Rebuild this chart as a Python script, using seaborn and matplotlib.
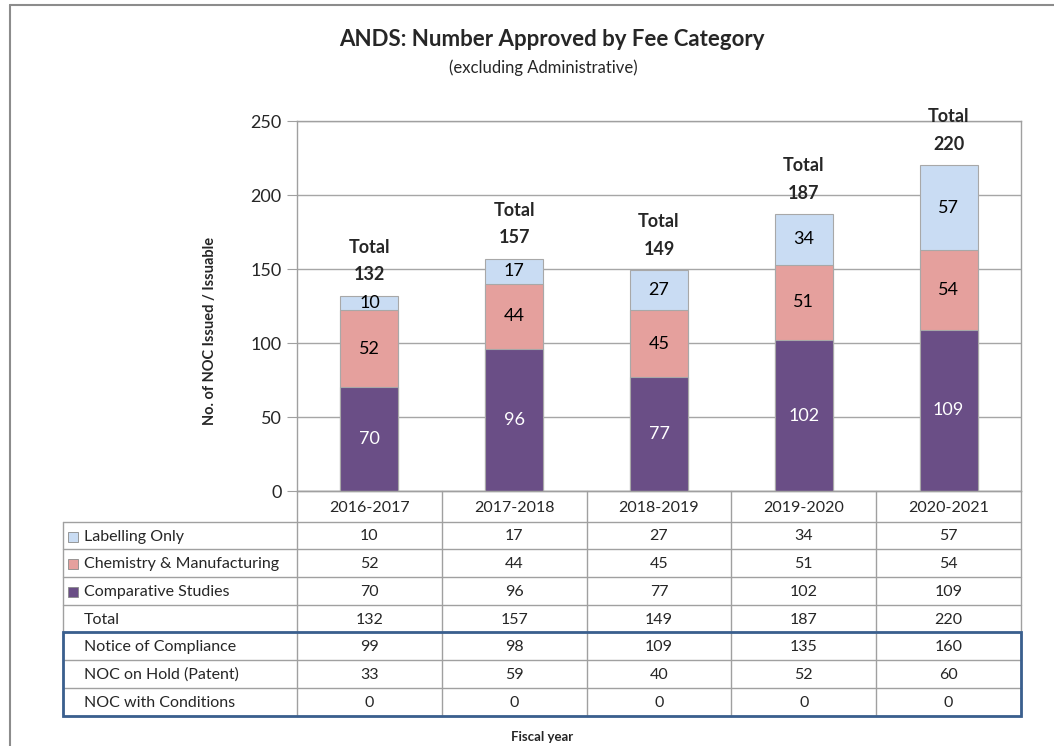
import matplotlib
matplotlib.use("Agg")
import matplotlib.pyplot as plt
import seaborn as sns
import numpy as np
from matplotlib.patches import Rectangle
from matplotlib.lines import Line2D

years = ["2016-2017", "2017-2018", "2018-2019", "2019-2020", "2020-2021"]
labelling = [10, 17, 27, 34, 57]
chemistry = [52, 44, 45, 51, 54]
comparative = [70, 96, 77, 102, 109]
totals = [132, 157, 149, 187, 220]
noc = [99, 98, 109, 135, 160]
noc_hold = [33, 59, 40, 52, 60]
noc_cond = [0, 0, 0, 0, 0]

series_names = ["Labelling Only", "Chemistry & Manufacturing", "Comparative Studies"]
colors = {"Labelling Only": "#C9DCF3", "Chemistry & Manufacturing": "#E5A09D",
          "Comparative Studies": "#6A4E86"}

sns.set_style("white")
plt.rcParams["font.family"] = ["Lato", "DejaVu Sans"]

W, H = 1054, 746
fig = plt.figure(figsize=(W / 100, H / 100), dpi=100)

def fx(px):
    return px / W

def fy(py):
    return 1 - py / H

# main axes
x0, x1, ytop, ybot = 297, 1021, 121, 491
ax = fig.add_axes([fx(x0), fy(ybot), fx(x1 - x0), (ybot - ytop) / H])

comp = np.array(comparative)
chem_cum = comp + np.array(chemistry)
lab_cum = chem_cum + np.array(labelling)

edge = "#A8A8A8"
sns.barplot(x=years, y=lab_cum, color=colors["Labelling Only"], width=0.4,
            edgecolor=edge, linewidth=0.8, ax=ax, saturation=1, zorder=3)
sns.barplot(x=years, y=chem_cum, color=colors["Chemistry & Manufacturing"], width=0.4,
            edgecolor=edge, linewidth=0.8, ax=ax, saturation=1, zorder=3)
sns.barplot(x=years, y=comp, color=colors["Comparative Studies"], width=0.4,
            edgecolor=edge, linewidth=0.8, ax=ax, saturation=1, zorder=3)

ax.set_ylim(0, 250)
ax.set_xlim(-0.5, 4.5)
ax.set_yticks([0, 50, 100, 150, 200, 250])
ax.yaxis.grid(True, color="#A6A6A6", linewidth=1, zorder=0)
ax.set_axisbelow(True)
ax.set_xticks([])
ax.set_xlabel("")
ax.set_ylabel("")
for s in ax.spines.values():
    s.set_color("#A0A0A0")
    s.set_linewidth(1)
ax.tick_params(axis="y", length=7, color="#A0A0A0", labelsize=13, pad=4, left=True)

# segment labels
for i in range(len(years)):
    ax.text(i, comp[i] / 2, str(comparative[i]), ha="center", va="center",
            fontsize=13, color="white", zorder=5)
    ax.text(i, comp[i] + chemistry[i] / 2, str(chemistry[i]), ha="center", va="center",
            fontsize=13, color="black", zorder=5)
    ax.text(i, chem_cum[i] + labelling[i] / 2, str(labelling[i]), ha="center", va="center",
            fontsize=13, color="black", zorder=5)
    ax.annotate(f"Total\n{totals[i]}", xy=(i, totals[i]), xytext=(0, 9),
                textcoords="offset points", ha="center", va="bottom",
                fontsize=13, fontweight="bold", linespacing=1.75,
                annotation_clip=False, zorder=5)

# table axes aligned with main axes columns
tbot = 716
tab = fig.add_axes([fx(x0), fy(tbot), fx(x1 - x0), (tbot - ybot) / H])
tab.set_xlim(-0.5, 4.5)
tab.set_ylim(tbot, ybot)
tab.axis("off")

row_edges = [491, 522, 549, 577, 605, 632, 660, 688, 716]
left_x = -0.5 - (x0 - 63) / ((x1 - x0) / 5)
gcol = "#A0A0A0"
for k, yv in enumerate(row_edges):
    xs = -0.5 if k == 0 else left_x
    tab.plot([xs, 4.5], [yv, yv], color=gcol, lw=1, clip_on=False)
for c in range(6):
    tab.plot([c - 0.5, c - 0.5], [491, tbot], color=gcol, lw=1, clip_on=False)
tab.plot([left_x, left_x], [row_edges[1], tbot], color=gcol, lw=1, clip_on=False)

fs_tab = 11.5
for i, yr in enumerate(years):
    tab.text(i, (row_edges[0] + row_edges[1]) / 2 + 1, yr, ha="center", va="center", fontsize=fs_tab)

rows = [("Labelling Only", labelling), ("Chemistry & Manufacturing", chemistry),
        ("Comparative Studies", comparative), ("Total", totals),
        ("Notice of Compliance", noc), ("NOC on Hold (Patent)", noc_hold),
        ("NOC with Conditions", noc_cond)]
px_per_unit = (x1 - x0) / 5
text_x = left_x + 21 / px_per_unit
sw_x = left_x + 5 / px_per_unit
for r, (name, vals) in enumerate(rows):
    yc = (row_edges[r + 1] + row_edges[r + 2]) / 2 + 1
    tab.text(text_x, yc, name, ha="left", va="center", fontsize=fs_tab, clip_on=False)
    if name in colors:
        tab.add_patch(Rectangle((sw_x, yc - 5), 10 / px_per_unit, 10,
                                facecolor=colors[name], edgecolor="#8A8A8A", lw=0.6,
                                clip_on=False))
    for i, v in enumerate(vals):
        tab.text(i, yc, str(v), ha="center", va="center", fontsize=fs_tab)

tab.add_patch(Rectangle((left_x, row_edges[5]), 4.5 - left_x, tbot - row_edges[5],
                        facecolor="none", edgecolor="#3A5F8E", lw=2, clip_on=False, zorder=6))

# titles and labels
fig.text(fx(552), fy(40), "ANDS: Number Approved by Fee Category", ha="center", va="center",
         fontsize=16, fontweight="bold")
fig.text(fx(543), fy(68), "(excluding Administrative)", ha="center", va="center", fontsize=12)
fig.text(fx(210), fy(331), "No. of NOC Issued / Issuable", ha="center", va="center",
         rotation=90, fontsize=10.5, fontweight="bold")
fig.text(fx(542), fy(737), "Fiscal year", ha="center", va="center", fontsize=9.5,
         fontweight="bold")

fig.add_artist(Line2D([fx(10), fx(10)], [fy(5), 0], color="#8C8C8C", lw=1.5))
fig.add_artist(Line2D([fx(10), 1], [fy(5), fy(5)], color="#8C8C8C", lw=1.5))

fig.savefig("out.png", dpi=100)
